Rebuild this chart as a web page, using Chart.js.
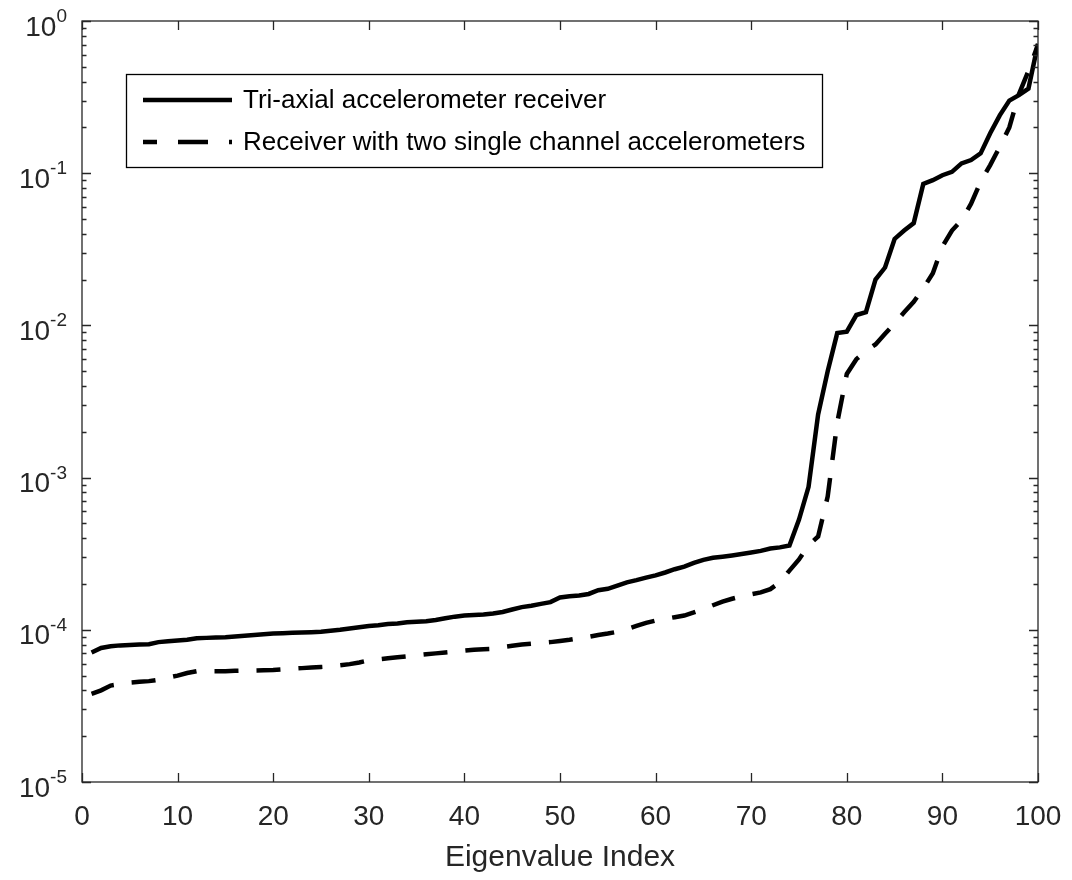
<!DOCTYPE html>
<html>
<head>
<meta charset="utf-8">
<script src="https://cdn.jsdelivr.net/npm/chart.js@4.4.1/dist/chart.umd.min.js"></script>
<style>
  html, body { margin: 0; padding: 0; background: #ffffff; }
  #wrap { width: 1072px; height: 880px; position: relative; }
</style>
</head>
<body>
<div id="wrap"><canvas id="eigChart"></canvas></div>
<script>
const seriesNames = ['Tri-axial accelerometer receiver', 'Receiver with two single channel accelerometers'];

// eigenvalues, index 1..100
const triaxial = [
  7.1e-5, 7.6e-5, 7.8e-5, 7.9e-5, 7.95e-5, 8.0e-5, 8.05e-5, 8.3e-5, 8.4e-5, 8.5e-5,
  8.6e-5, 8.8e-5, 8.85e-5, 8.9e-5, 8.95e-5, 9.05e-5, 9.15e-5, 9.25e-5, 9.35e-5, 9.45e-5,
  9.5e-5, 9.55e-5, 9.6e-5, 9.65e-5, 9.7e-5, 9.85e-5, 1.0e-4, 1.02e-4, 1.04e-4, 1.06e-4,
  1.07e-4, 1.09e-4, 1.1e-4, 1.12e-4, 1.13e-4, 1.14e-4, 1.16e-4, 1.19e-4, 1.22e-4, 1.24e-4,
  1.25e-4, 1.26e-4, 1.28e-4, 1.31e-4, 1.36e-4, 1.41e-4, 1.44e-4, 1.48e-4, 1.52e-4, 1.63e-4,
  1.66e-4, 1.68e-4, 1.72e-4, 1.82e-4, 1.86e-4, 1.95e-4, 2.05e-4, 2.12e-4, 2.2e-4, 2.28e-4,
  2.38e-4, 2.5e-4, 2.6e-4, 2.75e-4, 2.88e-4, 2.97e-4, 3.02e-4, 3.08e-4, 3.15e-4, 3.22e-4,
  3.3e-4, 3.42e-4, 3.48e-4, 3.58e-4, 5.3e-4, 8.7e-4, 2.6e-3, 5.0e-3, 8.9e-3, 9.1e-3,
  0.0117, 0.0122, 0.020, 0.024, 0.037, 0.042, 0.047, 0.085, 0.090, 0.097,
  0.102, 0.116, 0.122, 0.135, 0.183, 0.24, 0.30, 0.326, 0.36, 0.71
];
const twoSingle = [
  3.8e-5, 4.0e-5, 4.3e-5, 4.4e-5, 4.5e-5, 4.55e-5, 4.6e-5, 4.7e-5, 4.85e-5, 5.0e-5,
  5.2e-5, 5.35e-5, 5.35e-5, 5.35e-5, 5.35e-5, 5.38e-5, 5.4e-5, 5.4e-5, 5.42e-5, 5.45e-5,
  5.5e-5, 5.55e-5, 5.6e-5, 5.65e-5, 5.7e-5, 5.75e-5, 5.85e-5, 5.95e-5, 6.1e-5, 6.3e-5,
  6.4e-5, 6.5e-5, 6.6e-5, 6.7e-5, 6.8e-5, 6.9e-5, 7.0e-5, 7.1e-5, 7.2e-5, 7.3e-5,
  7.4e-5, 7.45e-5, 7.5e-5, 7.7e-5, 7.85e-5, 8.0e-5, 8.1e-5, 8.2e-5, 8.3e-5, 8.45e-5,
  8.6e-5, 8.8e-5, 9.0e-5, 9.25e-5, 9.45e-5, 9.7e-5, 1.01e-4, 1.06e-4, 1.11e-4, 1.15e-4,
  1.18e-4, 1.21e-4, 1.24e-4, 1.3e-4, 1.37e-4, 1.45e-4, 1.53e-4, 1.6e-4, 1.66e-4, 1.71e-4,
  1.76e-4, 1.85e-4, 2.05e-4, 2.45e-4, 2.9e-4, 3.6e-4, 4.1e-4, 7.5e-4, 2.3e-3, 4.8e-3,
  6.0e-3, 6.8e-3, 7.5e-3, 8.8e-3, 0.0103, 0.0122, 0.0143, 0.0175, 0.022, 0.033,
  0.042, 0.049, 0.063, 0.088, 0.113, 0.149, 0.20, 0.33, 0.47, 0.70
];

const xTicks = [0, 10, 20, 30, 40, 50, 60, 70, 80, 90, 100];
const yExponents = [-5, -4, -3, -2, -1, 0];

const fontFamily = '"Liberation Sans", Arial, Helvetica, sans-serif';
const axisColor = '#262626';

function toPoints(values) {
  return values.map((v, i) => ({ x: i + 1, y: v }));
}

// MATLAB-like box, inward ticks, 10^n labels and legend
const matlabAxes = {
  id: 'matlabAxes',
  afterDatasetsDraw(chart) {
    const { ctx, chartArea: a, scales: { x, y } } = chart;
    ctx.save();
    ctx.strokeStyle = axisColor;
    ctx.lineWidth = 1.3;
    ctx.strokeRect(a.left, a.top, a.right - a.left, a.bottom - a.top);

    ctx.beginPath();
    xTicks.forEach(v => {
      const px = Math.round(x.getPixelForValue(v)) + 0.5;
      ctx.moveTo(px, a.bottom); ctx.lineTo(px, a.bottom - 9);
      ctx.moveTo(px, a.top); ctx.lineTo(px, a.top + 9);
    });
    yExponents.forEach(e => {
      for (let k = 1; k <= 9; k++) {
        const v = k * Math.pow(10, e);
        if (v > 1.0000001) break;
        const len = k === 1 ? 9 : 4.5;
        const py = Math.round(y.getPixelForValue(v)) + 0.5;
        ctx.moveTo(a.left, py); ctx.lineTo(a.left + len, py);
        ctx.moveTo(a.right, py); ctx.lineTo(a.right - len, py);
      }
    });
    ctx.stroke();

    // y tick labels with superscripts
    ctx.fillStyle = axisColor;
    ctx.textAlign = 'right';
    ctx.textBaseline = 'alphabetic';
    const rightEdge = 67;
    yExponents.forEach(e => {
      const py = y.getPixelForValue(Math.pow(10, e));
      ctx.font = '19px ' + fontFamily;
      const sup = String(e);
      const supW = ctx.measureText(sup).width;
      ctx.fillText(sup, rightEdge, py + 1);
      ctx.font = '28px ' + fontFamily;
      ctx.fillText('10', rightEdge - supW, py + 14.5);
    });

    // legend
    const box = { l: 126, t: 74, r: 822, b: 167 };
    ctx.fillStyle = '#ffffff';
    ctx.fillRect(box.l, box.t, box.r - box.l, box.b - box.t);
    ctx.strokeStyle = '#000000';
    ctx.lineWidth = 1.3;
    ctx.strokeRect(box.l + 0.5, box.t + 0.5, box.r - box.l, box.b - box.t);

    const rows = [100, 142];
    ctx.lineWidth = 4.5;
    ctx.lineCap = 'butt';
    ctx.strokeStyle = '#000000';
    ctx.beginPath();
    ctx.setLineDash([]);
    ctx.moveTo(143, rows[0]); ctx.lineTo(232, rows[0]);
    ctx.stroke();
    ctx.beginPath();
    ctx.setLineDash([30, 21]);
    ctx.lineDashOffset = 16;
    ctx.moveTo(143, rows[1]); ctx.lineTo(232, rows[1]);
    ctx.stroke();
    ctx.setLineDash([]);

    ctx.fillStyle = '#000000';
    ctx.font = '26px ' + fontFamily;
    ctx.textAlign = 'left';
    ctx.textBaseline = 'middle';
    seriesNames.forEach((name, i) => ctx.fillText(name, 243, rows[i] + 1));
    ctx.restore();
  }
};

const ctx = document.getElementById('eigChart').getContext('2d');

const chart = new Chart(ctx, {
  type: 'line',
  data: {
    datasets: [
      {
        label: seriesNames[0],
        data: toPoints(triaxial),
        borderColor: '#000000',
        borderWidth: 4.5,
        pointRadius: 0,
        fill: false,
        tension: 0
      },
      {
        label: seriesNames[1],
        data: toPoints(twoSingle),
        borderColor: '#000000',
        borderWidth: 4.5,
        borderDash: [24, 18],
        borderCapStyle: 'butt',
        pointRadius: 0,
        fill: false,
        tension: 0
      }
    ]
  },
  options: {
    responsive: true,
    maintainAspectRatio: false,
    animation: false,
    layout: { padding: { top: 21, right: 34, left: 0, bottom: 0 } },
    plugins: {
      legend: { display: false },
      tooltip: { enabled: false }
    },
    scales: {
      x: {
        type: 'linear',
        min: 0,
        max: 100,
        afterFit: s => { s.height = 98; s.paddingLeft = 0; s.paddingRight = 0; },
        afterBuildTicks: s => { s.ticks = xTicks.map(v => ({ value: v })); },
        grid: { display: false, drawTicks: false },
        border: { display: false },
        ticks: {
          color: axisColor,
          font: { family: fontFamily, size: 28 },
          padding: 18,
          maxRotation: 0,
          autoSkip: false
        },
        title: {
          display: true,
          text: 'Eigenvalue Index',
          color: axisColor,
          font: { family: fontFamily, size: 30 },
          padding: { top: 0, bottom: 4 }
        }
      },
      y: {
        type: 'logarithmic',
        min: 1e-5,
        max: 1,
        afterFit: s => { s.width = 82; s.paddingTop = 0; s.paddingBottom = 0; },
        grid: { display: false, drawTicks: false },
        border: { display: false },
        ticks: { display: false }
      }
    }
  },
  plugins: [matlabAxes]
});
</script>
</body>
</html>
